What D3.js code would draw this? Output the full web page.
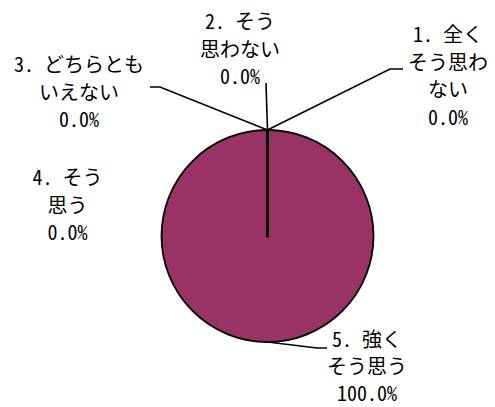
<!DOCTYPE html>
<html><head><meta charset="utf-8">
<script src="https://cdn.jsdelivr.net/npm/d3@7/dist/d3.min.js"></script>
<style>
html,body{margin:0;padding:0;background:#fff;}
svg{display:block;}
text{font-family:"Noto Sans Mono CJK JP","Noto Sans CJK JP",sans-serif;font-size:20px;fill:#000;}
</style></head>
<body>
<svg id="chart" width="495" height="407"></svg>
<script>
// ---- data ----
const categories = ["1. 全く\nそう思わ\nない", "2. そう\n思わない", "3. どちらとも\nいえない", "4. そう\n思う", "5. 強く\nそう思う"];
const values = [0, 0, 0, 0, 100];
const colors = ["#9999FF", "#FFFFCC", "#CCFFFF", "#660066", "#993366"];

// ---- layout (not data) ----
const center = [267.5, 236];
const radius = 106;
const labelAnchors = [[448, 42], [240, 29], [79, 72], [67.5, 185], [367, 347]];
const leaderBends = [[[390, 69], [403, 69]], [[266, 83]], [[160, 87], [150, 87]], null, [[317, 348], [327, 348]]];
const lineGap = 27.5;

const svg = d3.select("#chart");
const total = d3.sum(values);
const fmt = v => d3.format(".1f")(v / total * 100) + "%";

const pie = d3.pie().sort(null).value(d => d.value);
const rows = categories.map((c, i) => ({cat: c, value: values[i], color: colors[i], i}));
const arcs = pie(rows);
const arc = d3.arc().innerRadius(0).outerRadius(radius);

const g = svg.append("g").attr("transform", `translate(${center})`);
// draw largest first so zero-width slice edges stay visible
const ordered = arcs.slice().sort((a, b) => b.value - a.value);
g.selectAll("path.slice").data(ordered).enter().append("path")
  .attr("class", "slice")
  .attr("d", arc)
  .attr("fill", d => d.data.color)
  .attr("stroke", "#000")
  .attr("stroke-width", d => d.value === 0 ? 2.5 : 1.8)
  .attr("stroke-linejoin", "round");

// leader lines
const line = d3.line();
arcs.forEach((a, i) => {
  if (!leaderBends[i]) return;
  const mid = (a.startAngle + a.endAngle) / 2;
  const start = [center[0] + radius * Math.sin(mid), center[1] - radius * Math.cos(mid)];
  svg.append("path")
    .attr("d", line([start, ...leaderBends[i]]))
    .attr("fill", "none")
    .attr("stroke", "#000")
    .attr("stroke-width", 1.6);
});

// labels
arcs.forEach((a, i) => {
  const lines = a.data.cat.split("\n").concat([fmt(a.value)]);
  const t = svg.append("text")
    .attr("text-anchor", "middle")
    .attr("x", labelAnchors[i][0])
    .attr("y", labelAnchors[i][1]);
  lines.forEach((s, k) => {
    t.append("tspan").attr("x", labelAnchors[i][0]).attr("dy", k === 0 ? 0 : (i === 4 ? 27 : lineGap)).text(s);
  });
});
</script>
</body></html>
